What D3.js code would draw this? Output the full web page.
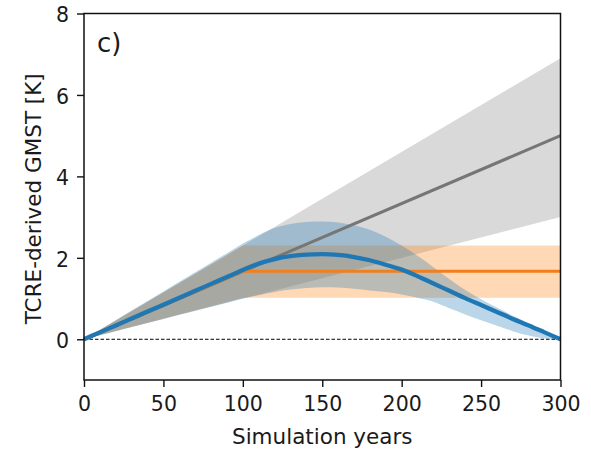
<!DOCTYPE html>
<html>
<head>
<meta charset="utf-8">
<script src="https://cdn.jsdelivr.net/npm/d3@7"></script>
<style>
  html, body { margin: 0; padding: 0; background: #fff; }
  svg { display: block; font-family: "DejaVu Sans", sans-serif; }
</style>
</head>
<body>
<svg id="chart" width="591" height="452"></svg>
<script>
// ---- data ----
const xTicks = [0, 50, 100, 150, 200, 250, 300];
const yTicks = [0, 2, 4, 6, 8];

const grayYears = [0, 300];
const grayMean  = [0, 5.0];
const grayUpper = [0, 6.9];
const grayLower = [0, 3.0];

const orangeYears = [0, 100, 300];
const orangeMean  = [0, 1.67, 1.67];
const orangeUpper = [0, 2.30, 2.30];
const orangeLower = [0, 1.02, 1.02];

const blueYears = [0,10,20,30,40,50,60,70,80,90,100,110,120,130,140,150,160,170,180,190,200,210,220,230,240,250,260,270,280,290,300];
const blueMean  = [0,0.17,0.34,0.51,0.68,0.85,1.02,1.19,1.36,1.53,1.70,1.86,1.97,2.04,2.08,2.09,2.07,2.02,1.94,1.83,1.71,1.55,1.37,1.19,1.01,0.84,0.67,0.50,0.34,0.17,0];
const blueUpper = [0,0.235,0.47,0.705,0.94,1.175,1.41,1.645,1.88,2.115,2.35,2.56,2.73,2.83,2.88,2.89,2.87,2.80,2.69,2.52,2.30,2.05,1.77,1.48,1.21,0.98,0.78,0.58,0.39,0.19,0];
const blueLower = [0,0.10,0.20,0.30,0.40,0.50,0.60,0.70,0.80,0.90,1.00,1.08,1.16,1.22,1.26,1.28,1.27,1.24,1.20,1.16,1.10,1.02,0.92,0.76,0.61,0.47,0.33,0.20,0.09,0.02,0];

// ---- layout ----
const svg = d3.select("#chart");
const L = 84, R = 560.5, T = 13.5, B = 380;
const x = d3.scaleLinear().domain([0, 300]).range([L, R]);
const y = d3.scaleLinear().domain([-1, 8]).range([B, T]);

const zip = (xs, ys) => xs.map((v, i) => [v, ys[i]]);
const band = (xs, lo, hi) => xs.map((v, i) => ({x: v, lo: lo[i], hi: hi[i]}));

const areaLin = d3.area().x(d => x(d.x)).y0(d => y(d.lo)).y1(d => y(d.hi));
const areaSmooth = d3.area().x(d => x(d.x)).y0(d => y(d.lo)).y1(d => y(d.hi)).curve(d3.curveMonotoneX);
const lineLin = d3.line().x(d => x(d[0])).y(d => y(d[1]));
const lineSmooth = d3.line().x(d => x(d[0])).y(d => y(d[1])).curve(d3.curveMonotoneX);

const plot = svg.append("g");

// bands
plot.append("path").attr("d", areaLin(band(grayYears, grayLower, grayUpper)))
  .attr("fill", "#808080").attr("fill-opacity", 0.3);
plot.append("path").attr("d", areaLin(band(orangeYears, orangeLower, orangeUpper)))
  .attr("fill", "#ff7f0e").attr("fill-opacity", 0.3);
plot.append("path").attr("d", areaSmooth(band(blueYears, blueLower, blueUpper)))
  .attr("fill", "#1f77b4").attr("fill-opacity", 0.3);

// zero line
plot.append("line")
  .attr("x1", x(0)).attr("x2", x(300)).attr("y1", y(0)).attr("y2", y(0))
  .attr("stroke", "#000").attr("stroke-width", 1).attr("stroke-dasharray", "3.5,2");

// lines
plot.append("path").attr("d", lineLin(zip(grayYears, grayMean)))
  .attr("fill", "none").attr("stroke", "#767676").attr("stroke-width", 3);
plot.append("path").attr("d", lineLin(zip(orangeYears, orangeMean)))
  .attr("fill", "none").attr("stroke", "#f07f1c").attr("stroke-width", 3.2);
plot.append("path").attr("d", lineSmooth(zip(blueYears, blueMean)))
  .attr("fill", "none").attr("stroke", "#1f77b4").attr("stroke-width", 4.3);

// frame
svg.append("rect").attr("x", L).attr("y", T).attr("width", R - L).attr("height", B - T)
  .attr("fill", "none").attr("stroke", "#111").attr("stroke-width", 1.5);

// axes
const xAxis = svg.append("g").attr("transform", `translate(0,${B})`)
  .call(d3.axisBottom(x).tickValues(xTicks).tickSize(7).tickPadding(9).tickFormat(d3.format("d")));
const yAxis = svg.append("g").attr("transform", `translate(${L},0)`)
  .call(d3.axisLeft(y).tickValues(yTicks).tickSize(7).tickPadding(8).tickFormat(d3.format("d")));

[xAxis, yAxis].forEach(a => {
  a.select(".domain").remove();
  a.selectAll(".tick line").attr("stroke", "#111").attr("stroke-width", 1.4);
  a.selectAll(".tick text").attr("fill", "#1a1a1a")
    .style("font-family", "'DejaVu Sans', sans-serif").style("font-size", "20.5px");
});
yAxis.selectAll(".tick text").attr("dy", "0.4em");

// labels
svg.append("text").attr("x", (L + R) / 2).attr("y", 444).attr("text-anchor", "middle")
  .style("font-size", "21.5px").attr("fill", "#1a1a1a").text("Simulation years");
svg.append("text").attr("transform", `translate(41,${(T + B) / 2 + 2}) rotate(-90)`)
  .attr("text-anchor", "middle").style("font-size", "21.5px").attr("fill", "#1a1a1a")
  .text("TCRE-derived GMST [K]");
svg.append("text").attr("x", 97).attr("y", 52).style("font-size", "26px")
  .attr("fill", "#1a1a1a").text("c)");
</script>
</body>
</html>
